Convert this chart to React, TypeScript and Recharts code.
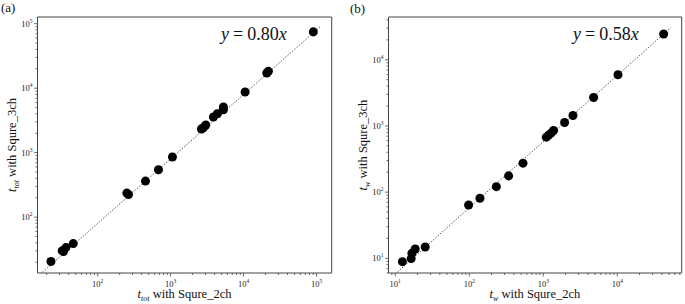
import { ReferenceArea, ReferenceLine, Scatter, ScatterChart, XAxis, YAxis } from "recharts";

// (a) total time, 2ch vs 3ch
const totX = [22.9, 32.6, 34.0, 36.7, 46.2, 251, 264, 452, 681, 1059, 2642, 2812, 3034, 3857, 4375, 5285, 5285, 10490, 20800, 21880, 90360];
const totY = [20.5, 30.0, 29.2, 33.7, 38.9, 236, 224, 362, 542, 855, 2325, 2437, 2686, 3573, 4018, 4637, 5105, 8730, 17220, 18240, 74650];

// (b) waiting time, 2ch vs 3ch
const waitX = [12.5, 16.4, 16.8, 18.6, 25.4, 98, 139.5, 232, 340, 532, 1099, 1180, 1271, 1377, 1940, 2518, 4786, 10210, 42270];
const waitY = [8.9, 9.9, 11.9, 13.8, 14.8, 64, 80.9, 121, 176, 274, 677, 726, 778, 852, 1125, 1435, 2692, 5930, 24490];

const FONT = "'Liberation Serif', 'Times New Roman', serif";
const AXIS = "#444";

// major + minor log ticks inside a domain
function logTicks(lo: number, hi: number) {
  const out: number[] = [];
  for (let e = -1; e <= 6; e++) {
    for (let m = 1; m <= 9; m++) {
      const v = m * Math.pow(10, e);
      if (v >= lo && v <= hi) out.push(v);
    }
  }
  return out;
}

function isMajor(v: number) {
  const e = Math.log10(v);
  return Math.abs(e - Math.round(e)) < 1e-6;
}

function XTick(props: any) {
  const { x, y, payload } = props;
  const v = payload.value;
  const major = isMajor(v);
  return (
    <g>
      <line x1={x} x2={x} y1={y} y2={y + (major ? 3.5 : 2)} stroke={AXIS} strokeWidth={0.8} />
      {major && (
        <text x={x} y={y + 13.5} textAnchor="middle" fontSize={8.5} fontFamily={FONT} fill="#222">
          10
          <tspan dy={-4} fontSize={5.5}>
            {Math.round(Math.log10(v))}
          </tspan>
        </text>
      )}
    </g>
  );
}

function YTick(props: any) {
  const { x, y, payload } = props;
  const v = payload.value;
  const major = isMajor(v);
  return (
    <g>
      <line x1={x} x2={x - (major ? 3.5 : 2)} y1={y} y2={y} stroke={AXIS} strokeWidth={0.8} />
      {major && (
        <text x={x - 5} y={y + 3} textAnchor="end" fontSize={8.5} fontFamily={FONT} fill="#222">
          10
          <tspan dy={-4} fontSize={5.5}>
            {Math.round(Math.log10(v))}
          </tspan>
        </text>
      )}
    </g>
  );
}

interface PanelProps {
  xs: number[];
  ys: number[];
  xDomain: [number, number];
  yDomain: [number, number];
  slope: number;
  yAxisWidth: number;
  rightMargin: number;
  left: number;
}

function Panel({ xs, ys, xDomain, yDomain, slope, yAxisWidth, rightMargin, left }: PanelProps) {
  const data = xs.map((x, i) => ({ x, y: ys[i] }));
  const lineFrom = xDomain[0] * 0.5;
  const lineTo = xs[xs.length - 1] * 1.25;
  return (
    <div style={{ position: "absolute", left, top: 0 }}>
      <ScatterChart width={340} height={304} margin={{ top: 17, right: rightMargin, bottom: 0, left: 0 }}>
        <XAxis
          dataKey="x"
          type="number"
          scale="log"
          domain={xDomain}
          allowDataOverflow
          ticks={logTicks(xDomain[0], xDomain[1])}
          interval={0}
          tickSize={0}
          tickMargin={0}
          tickLine={false}
          axisLine={false}
          tick={<XTick />}
          height={31}
        />
        <YAxis
          dataKey="y"
          type="number"
          scale="log"
          domain={yDomain}
          allowDataOverflow
          ticks={logTicks(yDomain[0], yDomain[1])}
          interval={0}
          tickSize={0}
          tickMargin={0}
          tickLine={false}
          axisLine={false}
          tick={<YTick />}
          width={yAxisWidth}
        />
        <ReferenceArea
          x1={xDomain[0]}
          x2={xDomain[1]}
          y1={yDomain[0]}
          y2={yDomain[1]}
          fill="none"
          stroke={AXIS}
          strokeWidth={1}
          ifOverflow="visible"
        />
        <ReferenceLine
          segment={[
            { x: lineFrom, y: lineFrom * slope },
            { x: lineTo, y: lineTo * slope },
          ]}
          stroke="#333"
          strokeWidth={0.8}
          strokeDasharray="1.5 1.5"
          ifOverflow="hidden"
        />
        <Scatter data={data} fill="#000" isAnimationActive={false} />
      </ScatterChart>
    </div>
  );
}

function AxisTitle({ x, y, sub, text, rotate }: { x: number; y: number; sub: string; text: string; rotate?: boolean }) {
  return (
    <text
      x={x}
      y={y}
      textAnchor="middle"
      fontFamily={FONT}
      fontSize={12.5}
      fill="#111"
      transform={rotate ? `rotate(-90 ${x} ${y})` : undefined}
    >
      <tspan fontStyle="italic">t</tspan>
      <tspan fontStyle="italic" fontSize={8} dy={2.5}>
        {sub}
      </tspan>
      <tspan dy={-2.5}>{" " + text}</tspan>
    </text>
  );
}

function Equation({ x, y, k }: { x: number; y: number; k: string }) {
  return (
    <text x={x} y={y} fontFamily={FONT} fontSize={18} fill="#111">
      <tspan fontStyle="italic">y</tspan>
      <tspan dx={4}>=</tspan>
      <tspan dx={4}>{k}</tspan>
      <tspan fontStyle="italic">x</tspan>
    </text>
  );
}

export default function App() {
  return (
    <div style={{ position: "absolute", left: 0, top: 0, width: 685, height: 304, background: "#fff" }}>
      <Panel
        xs={totX}
        ys={totY}
        xDomain={[14.96, 161400]}
        yDomain={[13.6, 127000]}
        slope={0.8}
        yAxisWidth={37.5}
        rightMargin={8.3}
        left={0}
      />
      <Panel
        xs={waitX}
        ys={waitY}
        xDomain={[8.11, 74100]}
        yDomain={[6.0, 44260]}
        slope={0.58}
        yAxisWidth={43.5}
        rightMargin={3.3}
        left={345}
      />
      <svg width={685} height={304} style={{ position: "absolute", left: 0, top: 0, pointerEvents: "none" }}>
        <text x={1} y={12} fontFamily={FONT} fontSize={13} fill="#111">
          (a)
        </text>
        <text x={350} y={13} fontFamily={FONT} fontSize={13} fill="#111">
          (b)
        </text>
        <Equation x={221} y={40} k="0.80" />
        <Equation x={573} y={39.5} k="0.58" />
        <AxisTitle x={184.5} y={298} sub="tot" text="with Squre_2ch" />
        <AxisTitle x={535} y={298} sub="w" text="with Squre_2ch" />
        <AxisTitle x={16} y={145} sub="tot" text="with Squre_3ch" rotate />
        <AxisTitle x={367} y={145} sub="w" text="with Squre_3ch" rotate />
      </svg>
    </div>
  );
}
